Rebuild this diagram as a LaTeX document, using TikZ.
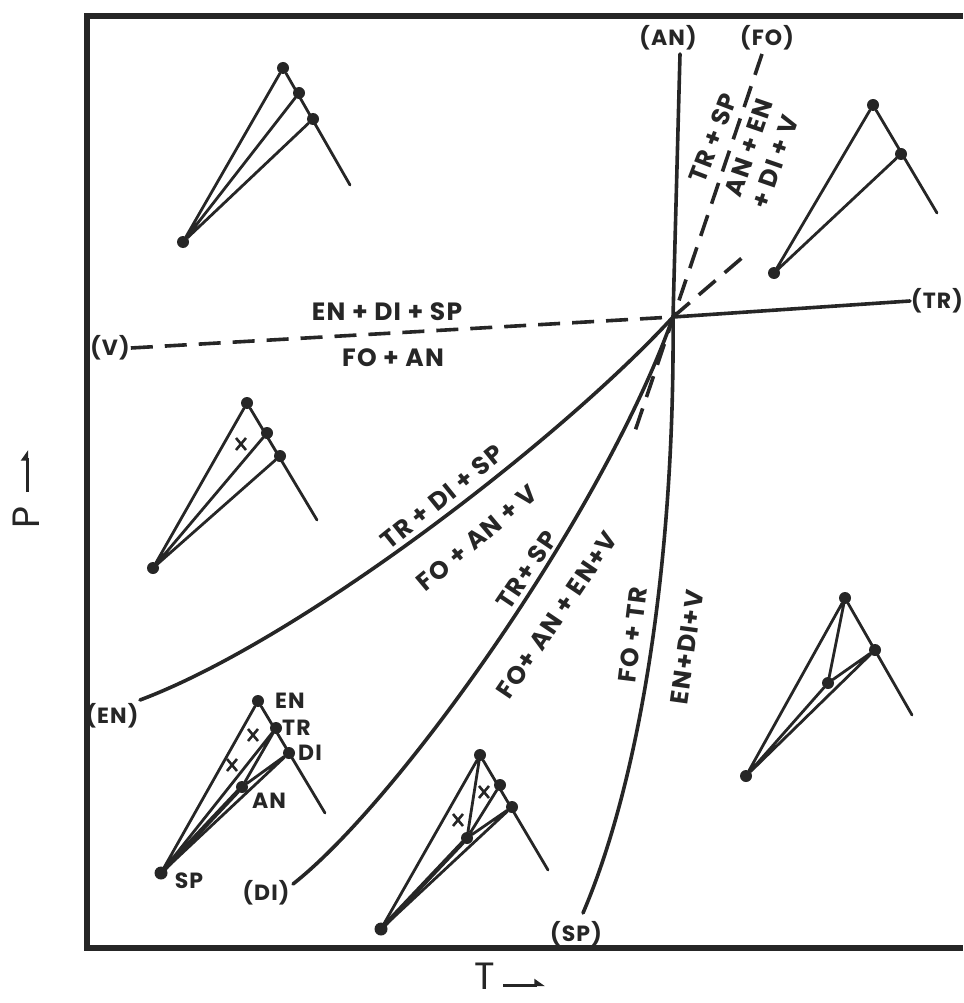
\documentclass[tikz,border=0pt]{standalone}
\usepackage{fontspec}
\setmainfont{Poppins}[LetterSpace=5]
\usetikzlibrary{arrows.meta}
\definecolor{ink}{HTML}{262626}
\begin{document}
\begin{tikzpicture}[x=1pt,y=-1pt,
  every node/.style={text=ink},
  rx/.style={line width=3.6pt, draw=ink, line cap=round},
  dsh/.style={line width=3.6pt, draw=ink, dash pattern=on 22pt off 12pt},
  tie/.style={line width=2.8pt, draw=ink, line cap=round},
  tiek/.style={line width=4.4pt, draw=ink, line cap=round},
  dot/.style={circle, fill=ink, inner sep=0pt, minimum size=12pt},
  big/.style={font=\fontsize{25}{29}\selectfont\bfseries, inner sep=1pt},
  plab/.style={font=\fontsize{22}{26}\selectfont\bfseries, inner sep=1pt},
  ax/.style={font=\fontsize{38}{42}\selectfont, inner sep=0pt},
  xm/.style={line width=2.6pt, draw=ink}
]
\useasboundingbox (0,0) rectangle (963,1003);
% frame
\draw[line width=5.5pt, ink, line join=miter] (963,16) -- (87,16) -- (87,948) -- (963,948);

% invariant point and reaction lines
\coordinate (I) at (673,317);
\node[plab] (lAN) at (668,38) {(AN)};
\coordinate (ANe) at (680,54);
\draw[rx] (I) -- (ANe);
\node[plab] (lFO) at (767,38) {(FO)};
\coordinate (FOs) at (762,54);
\coordinate (FOx) at (632,440);
\draw[dsh] (FOs) -- (FOx);
\node[plab] (lTR) at (937,301) {(TR)};
\draw[rx] (I) -- (lTR.west);
\node[plab] (lV) at (110,348) {(V)};
\draw[dsh] (lV.east) -- (I);
\coordinate (ENx) at (743,257);
\draw[dsh] (I) -- (ENx);
\node[plab] (lEN) at (112,716) {(EN)};
\coordinate (ENs) at (140,700);
\draw[rx] (ENs) .. controls (300,640) and (560,440) .. (I);
\node[plab] (lDI) at (266,893) {(DI)};
\coordinate (DIs) at (293,884);
\draw[rx] (DIs) .. controls (400,800) and (605,510) .. (I);
\node[plab] (lSP) at (576,934) {(SP)};
\coordinate (SPs) at (583,913);
\draw[rx] (SPs) .. controls (640,780) and (675,560) .. (I);

% reaction labels
\node[big] (r1) at (387,312) {EN + DI + SP};
\node[big] (r2) at (393,358) {FO + AN};
\node[big, rotate=39] (r3) at (442,497) {TR + DI + SP};
\node[big, rotate=40] (r4) at (477,538) {FO + AN + V};
\node[big, rotate=56] (r5) at (527,570) {TR+ SP};
\node[big, rotate=56] (r6) at (557,615) {FO+ AN + EN+V};
\node[big, rotate=83] (r7) at (633,635) {FO + TR};
\node[big, rotate=82] (r8) at (687,647) {EN+DI+V};
\node[big, rotate=69] (r9) at (713,138) {TR + SP};
\node[big, rotate=71] (r10) at (749,148) {AN + EN};
\node[big, rotate=71] (r11) at (775,162) {+ DI + V};

% axes
\node[ax, rotate=90] (P) at (26,517) {P};
\coordinate (Pa) at (27,492); \coordinate (Pb) at (27,450);
\draw[ink, line width=3pt, -{Triangle[harpoon, length=9pt, width=12pt]}] (Pa) -- (Pb);
\node[ax, anchor=south] (T) at (485,990) {T};
\coordinate (Ta) at (503,985); \coordinate (Tb) at (545,985);
\draw[ink, line width=3pt, -{Triangle[harpoon, length=9pt, width=12pt]}] (Ta) -- (Tb);

% triangle 1 (top left)
\node[dot] (a1) at (283,68) {};
\node[dot] (a2) at (299,93) {};
\node[dot] (a3) at (313,119) {};
\coordinate (a4) at (350,185);
\node[dot] (a0) at (183,242) {};
\draw[tie] (a0)--(a1) (a0)--(a2) (a0)--(a3) (a1)--(a4);

% triangle 2 (top right)
\node[dot] (b1) at (873,105) {};
\node[dot] (b2) at (901,154) {};
\coordinate (b3) at (937,213);
\node[dot] (b0) at (774,273) {};
\draw[tie] (b0)--(b1) (b0)--(b2) (b1)--(b3);

% triangle 3 (middle left)
\node[dot] (c1) at (247,403) {};
\node[dot] (c2) at (267,433) {};
\node[dot] (c3) at (280,456) {};
\coordinate (c4) at (317,520);
\node[dot] (c0) at (153,568) {};
\draw[tie] (c0)--(c1) (c0)--(c2) (c0)--(c3) (c1)--(c4);
\coordinate (cx) at (241,444);
\draw[xm] ([shift={(-5,-6)}]cx) -- ([shift={(5,6)}]cx) ([shift={(5,-6)}]cx) -- ([shift={(-5,6)}]cx);

% triangle 4 (lower left, labelled)
\node[dot] (d1) at (258,701) {};
\node[dot] (d2) at (276,728) {};
\node[dot] (d3) at (289,753) {};
\coordinate (d4) at (325,813);
\node[dot] (d5) at (242,787) {};
\node[dot, minimum size=13pt] (d0) at (161,873) {};
\draw[tie] (d0)--(d1) (d0)--(d2) (d0)--(d3) (d1)--(d4) (d2)--(d5) (d5)--(d3);
\draw[tiek] (d0)--(d5);
\node[plab, anchor=west] (tEN) at (274,701) {EN};
\node[plab, anchor=west] (tTR) at (281,728) {TR};
\node[plab, anchor=west] (tDI) at (297,753) {DI};
\node[plab] (tAN) at (269,801) {AN};
\node[plab] (tSP) at (189,881) {SP};
\coordinate (dx1) at (253,735);
\coordinate (dx2) at (232,765);
\draw[xm] ([shift={(-5,-6)}]dx1) -- ([shift={(5,6)}]dx1) ([shift={(5,-6)}]dx1) -- ([shift={(-5,6)}]dx1);
\draw[xm] ([shift={(-5,-6)}]dx2) -- ([shift={(5,6)}]dx2) ([shift={(5,-6)}]dx2) -- ([shift={(-5,6)}]dx2);

% triangle 5 (bottom middle)
\node[dot] (e1) at (480,755) {};
\node[dot] (e2) at (500,785) {};
\node[dot] (e3) at (512,807) {};
\coordinate (e4) at (548,870);
\node[dot] (e5) at (467,838) {};
\node[dot, minimum size=13pt] (e0) at (381,929) {};
\draw[tie] (e0)--(e1) (e1)--(e5) (e2)--(e5) (e3)--(e5) (e0)--(e3) (e1)--(e4);
\draw[tiek] (e0)--(e5);
\coordinate (ex1) at (458,820);
\coordinate (ex2) at (484,792);
\draw[xm] ([shift={(-5,-6)}]ex1) -- ([shift={(5,6)}]ex1) ([shift={(5,-6)}]ex1) -- ([shift={(-5,6)}]ex1);
\draw[xm] ([shift={(-5,-6)}]ex2) -- ([shift={(5,6)}]ex2) ([shift={(5,-6)}]ex2) -- ([shift={(-5,6)}]ex2);

% triangle 6 (bottom right)
\node[dot] (f1) at (845,598) {};
\node[dot] (f2) at (875,650) {};
\coordinate (f3) at (912,715);
\node[dot] (f5) at (828,683) {};
\node[dot] (f0) at (746,776) {};
\draw[tie] (f0)--(f1) (f1)--(f5) (f5)--(f2) (f0)--(f5) (f0)--(f2) (f1)--(f3);
\end{tikzpicture}
\end{document}
